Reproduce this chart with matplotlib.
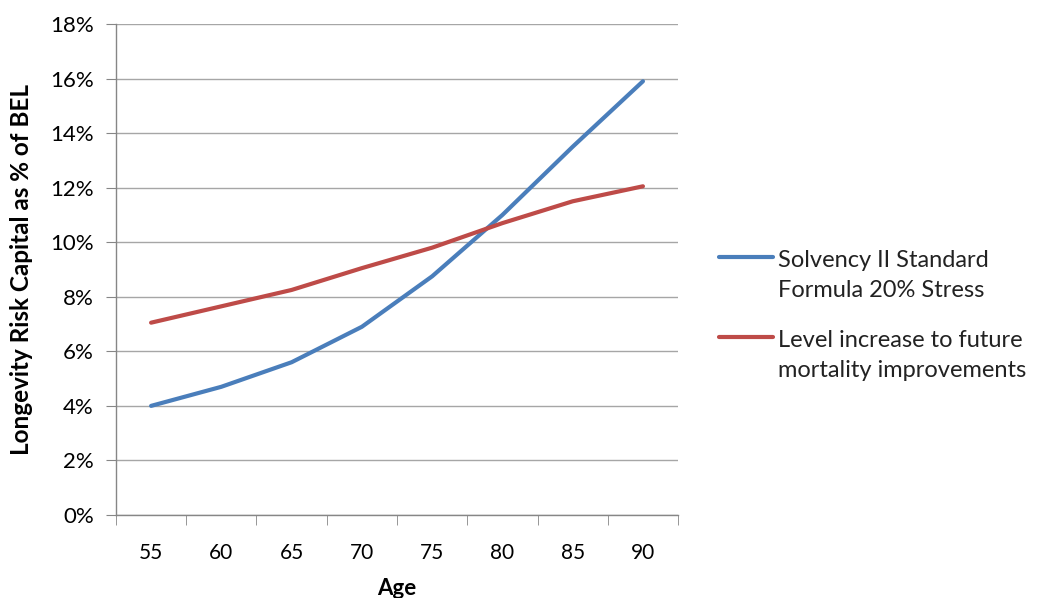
import matplotlib
import numpy as np
import matplotlib.pyplot as plt
from matplotlib.legend_handler import HandlerLine2D
from matplotlib.ticker import FixedLocator, PercentFormatter

matplotlib.use('Agg')
plt.rcParams["font.family"] = ["Lato", "DejaVu Sans"]

ages = [55, 60, 65, 70, 75, 80, 85, 90]
solvency_stress = [4.0, 4.7, 5.6, 6.9, 8.75, 11.0, 13.5, 15.9]
level_increase = [7.05, 7.65, 8.25, 9.05, 9.8, 10.7, 11.5, 12.05]
series_labels = ["Solvency II Standard\nFormula 20% Stress",
                 "Level increase to future\nmortality improvements"]

axis_grey = "#868686"
legend_size = 17


class FirstLineHandler(HandlerLine2D):
    # put the legend line next to the first row of a two-row label
    def create_artists(self, legend, orig_handle, xdescent, ydescent, width, height, fontsize, trans):
        artists = super().create_artists(legend, orig_handle, xdescent, ydescent,
                                         width, height, fontsize, trans)
        for a in artists:
            a.set_ydata(np.asarray(a.get_ydata()) + 0.8 * fontsize)
        return artists


fig = plt.figure(figsize=(10.4, 5.98), dpi=100)
ax = fig.add_axes([0.1115, 0.1388, 0.5405, 0.8211])

pos = list(range(len(ages)))
ax.plot(pos, solvency_stress, color="#4a7ebb", lw=3, label=series_labels[0], solid_capstyle="round")
ax.plot(pos, level_increase, color="#be4b48", lw=3, label=series_labels[1], solid_capstyle="round")

ax.set_xlim(-0.5, len(ages) - 0.5)
ax.set_ylim(0, 18)
ax.set_yticks(range(0, 19, 2))
ax.yaxis.set_major_formatter(PercentFormatter(decimals=0))
ax.set_xticks(pos)
ax.set_xticklabels([str(a) for a in ages])
ax.xaxis.set_minor_locator(FixedLocator([p - 0.5 for p in range(len(ages) + 1)]))

ax.grid(axis="y", color="#a6a6a6", lw=1)
ax.set_axisbelow(True)
for side in ["top", "right"]:
    ax.spines[side].set_visible(False)
for side in ["left", "bottom"]:
    ax.spines[side].set_color(axis_grey)
    ax.spines[side].set_linewidth(1)

ax.tick_params(axis="y", length=7, color=axis_grey, labelsize=16, pad=9)
ax.tick_params(axis="x", which="major", length=0, labelsize=15, pad=20)
ax.tick_params(axis="x", which="minor", length=7, color=axis_grey)

ax.set_xlabel("Age", fontsize=16, fontweight="bold", labelpad=11)
ax.set_ylabel("Longevity Risk Capital as % of BEL", fontsize=17.5, fontweight="bold", labelpad=12)

leg = ax.legend(loc="upper left", bbox_to_anchor=(0.6823, 0.597), bbox_transform=fig.transFigure,
                frameon=False, fontsize=legend_size, handlelength=2.3, handletextpad=0.2,
                labelspacing=1.25, borderaxespad=0,
                handler_map={matplotlib.lines.Line2D: FirstLineHandler()})
for t in leg.get_texts():
    t.set_linespacing(1.5)
    t.set_color("#222222")

fig.savefig("out.png", dpi=100, facecolor="white")
